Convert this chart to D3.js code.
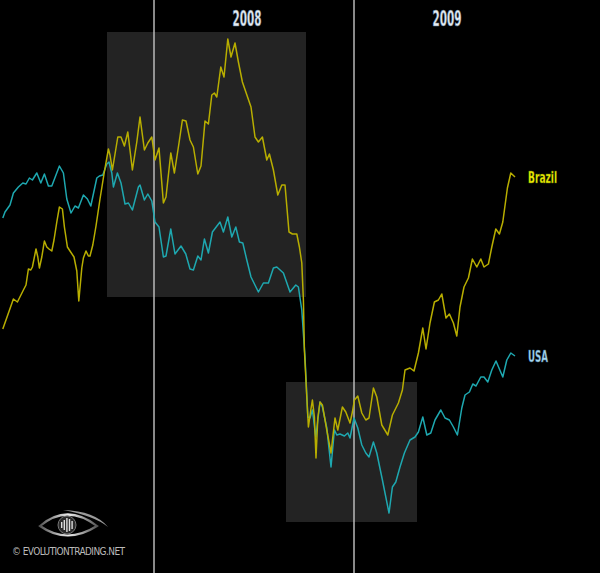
<!DOCTYPE html>
<html>
<head>
<meta charset="utf-8">
<script src="https://cdn.jsdelivr.net/npm/d3@7"></script>
<style>
  body { margin: 0; background: #000; }
  svg { display: block; }
</style>
</head>
<body>
<div id="container"></div>
<script>
/* CONSTANTS AND GLOBALS */
const width = 600,
  height = 573;

// time in decimal years, values in index points
const brazilYears = [2007.244, 2007.297, 2007.317, 2007.347, 2007.360, 2007.372, 2007.384, 2007.392, 2007.410, 2007.419,
  2007.427, 2007.439, 2007.452, 2007.464, 2007.475, 2007.489, 2007.500, 2007.514, 2007.527, 2007.542,
  2007.552, 2007.567, 2007.580, 2007.600, 2007.614, 2007.624, 2007.639, 2007.647, 2007.660, 2007.672,
  2007.680, 2007.694, 2007.710, 2007.730, 2007.750, 2007.772, 2007.780, 2007.792, 2007.819, 2007.835,
  2007.852, 2007.869, 2007.892, 2007.914, 2007.930, 2007.952, 2007.969, 2007.989, 2008.005, 2008.025,
  2008.047, 2008.060, 2008.084, 2008.102, 2008.125, 2008.142, 2008.160, 2008.180, 2008.197, 2008.219,
  2008.235, 2008.255, 2008.272, 2008.289, 2008.302, 2008.314, 2008.334, 2008.350, 2008.369, 2008.385,
  2008.405, 2008.422, 2008.442, 2008.485, 2008.505, 2008.522, 2008.542, 2008.564, 2008.577, 2008.597,
  2008.619, 2008.639, 2008.655, 2008.675, 2008.692, 2008.714, 2008.727, 2008.739, 2008.747, 2008.752,
  2008.764, 2008.772, 2008.784, 2008.792, 2008.802, 2008.810, 2008.819, 2008.830, 2008.842, 2008.864,
  2008.885, 2008.905, 2008.919, 2008.942, 2008.959, 2008.980, 2008.992, 2009.002, 2009.019, 2009.039,
  2009.059, 2009.075, 2009.097, 2009.114, 2009.139, 2009.169, 2009.192, 2009.222, 2009.242, 2009.255,
  2009.280, 2009.300, 2009.322, 2009.344, 2009.360, 2009.380, 2009.402, 2009.422, 2009.439, 2009.460,
  2009.477, 2009.497, 2009.514, 2009.530, 2009.550, 2009.572, 2009.592, 2009.614, 2009.634, 2009.650,
  2009.672, 2009.689, 2009.709, 2009.727, 2009.744, 2009.767, 2009.784, 2009.805];
const brazilValues = [191, 221, 218, 230, 235, 251, 250, 253, 271, 263,
  252, 263, 279, 273, 271, 269, 280, 298, 313, 311,
  293, 273, 269, 263, 249, 219, 252, 262, 269, 264,
  264, 275, 294, 321, 346, 371, 365, 350, 383, 383,
  374, 388, 350, 378, 403, 370, 377, 383, 360, 372,
  317, 323, 367, 347, 377, 400, 399, 380, 373, 346,
  354, 399, 396, 425, 427, 423, 453, 443, 481, 463,
  477, 458, 438, 413, 383, 378, 383, 360, 366, 350,
  325, 335, 335, 288, 286, 286, 273, 257, 220, 170,
  123, 93, 110, 120, 103, 62, 102, 118, 115, 90,
  67, 102, 90, 113, 108, 97, 108, 120, 124, 107,
  100, 102, 132, 123, 95, 85, 105, 117, 130, 150,
  152, 149, 167, 192, 171, 197, 218, 220, 226, 202,
  206, 197, 184, 213, 233, 242, 261, 253, 261, 253,
  256, 273, 291, 286, 298, 332, 347, 343];

const usaYears = [2007.244, 2007.255, 2007.280, 2007.297, 2007.322, 2007.344, 2007.360, 2007.377, 2007.392, 2007.414,
  2007.434, 2007.452, 2007.472, 2007.489, 2007.527, 2007.547, 2007.564, 2007.585, 2007.605, 2007.622,
  2007.647, 2007.667, 2007.684, 2007.714, 2007.727, 2007.744, 2007.764, 2007.775, 2007.789, 2007.797,
  2007.817, 2007.835, 2007.855, 2007.872, 2007.892, 2007.922, 2007.930, 2007.952, 2007.969, 2007.989,
  2008.005, 2008.025, 2008.047, 2008.060, 2008.084, 2008.105, 2008.135, 2008.159, 2008.180, 2008.197,
  2008.219, 2008.235, 2008.252, 2008.272, 2008.292, 2008.330, 2008.347, 2008.369, 2008.389, 2008.409,
  2008.427, 2008.444, 2008.464, 2008.485, 2008.522, 2008.547, 2008.572, 2008.597, 2008.614, 2008.647,
  2008.680, 2008.709, 2008.722, 2008.739, 2008.755, 2008.769, 2008.780, 2008.792, 2008.809, 2008.830,
  2008.842, 2008.864, 2008.885, 2008.902, 2008.914, 2008.930, 2008.952, 2008.969, 2008.980, 2009.000,
  2009.019, 2009.039, 2009.059, 2009.075, 2009.097, 2009.114, 2009.142, 2009.175, 2009.192, 2009.209,
  2009.230, 2009.252, 2009.280, 2009.305, 2009.322, 2009.344, 2009.364, 2009.384, 2009.405, 2009.434,
  2009.455, 2009.477, 2009.497, 2009.517, 2009.539, 2009.555, 2009.577, 2009.594, 2009.610, 2009.634,
  2009.650, 2009.669, 2009.689, 2009.710, 2009.744, 2009.764, 2009.784, 2009.805];
const usaValues = [302, 308, 315, 327, 333, 337, 336, 342, 340, 347,
  337, 346, 334, 334, 354, 347, 321, 307, 314, 312,
  325, 321, 314, 342, 344, 345, 356, 358, 347, 333,
  347, 337, 316, 317, 310, 333, 335, 320, 326, 319,
  298, 293, 263, 264, 291, 266, 274, 266, 251, 250,
  264, 260, 281, 267, 288, 298, 288, 303, 283, 293,
  278, 277, 260, 243, 228, 237, 237, 252, 253, 247,
  228, 235, 233, 210, 163, 103, 102, 110, 83, 118,
  113, 92, 53, 90, 85, 86, 84, 87, 82, 102,
  92, 75, 67, 63, 78, 67, 40, 7, 33, 38,
  53, 67, 80, 83, 88, 103, 85, 87, 100, 110,
  102, 100, 93, 85, 112, 125, 128, 136, 134, 143,
  143, 138, 150, 159, 143, 160, 167, 164];

const yearLines = [2008, 2009];
const yearLabels = ["2008", "2009"];

// shaded periods: [fromYear, toYear] and [lowValue, highValue]
const boxYears = [[2007.765, 2008.76], [2008.66, 2009.315]];
const boxValues = [[223, 488], [-2, 138]];

const seriesNames = ["Brazil", "USA"];

/* SCALES */
const xScale = d3.scaleLinear()
  .domain([2007, 2010])
  .range([-46, 554]);

const yScale = d3.scaleLinear()
  .domain([0, 500])
  .range([520, 20]);

/* HTML ELEMENTS */
const svg = d3.select("#container")
  .append("svg")
  .attr("width", width)
  .attr("height", height)
  .style("background", "#000");

// shaded boxes
svg.selectAll(".box")
  .data(boxYears)
  .join("rect")
  .attr("class", "box")
  .attr("x", d => xScale(d[0]))
  .attr("width", d => xScale(d[1]) - xScale(d[0]))
  .attr("y", (d, i) => yScale(boxValues[i][1]))
  .attr("height", (d, i) => yScale(boxValues[i][0]) - yScale(boxValues[i][1]))
  .attr("fill", "#232323");

// year dividers
svg.selectAll(".yearline")
  .data(yearLines)
  .join("line")
  .attr("class", "yearline")
  .attr("x1", d => xScale(d))
  .attr("x2", d => xScale(d))
  .attr("y1", 0)
  .attr("y2", height)
  .attr("stroke", "#c4c4c4")
  .attr("stroke-width", 1.4);

svg.selectAll(".yearlabel")
  .data(yearLabels)
  .join("text")
  .attr("class", "yearlabel")
  .attr("x", (d, i) => xScale(yearLines[i] + 0.465))
  .attr("y", 26)
  .attr("text-anchor", "middle")
  .attr("font-family", "'Liberation Sans Narrow', 'DejaVu Sans Condensed', sans-serif")
  .attr("font-weight", "bold")
  .attr("font-size", 21)
  .attr("textLength", 29)
  .attr("lengthAdjust", "spacingAndGlyphs")
  .attr("fill", "#e6edf3")
  .attr("stroke", "#5d7a96")
  .attr("stroke-width", 0.6)
  .text(d => d);

// lines
const line = d3.line()
  .x(d => xScale(d[0]))
  .y(d => yScale(d[1]));

const brazil = d3.zip(brazilYears, brazilValues);
const usa = d3.zip(usaYears, usaValues);

svg.append("path")
  .datum(usa)
  .attr("fill", "none")
  .attr("stroke", "#1ea8b0")
  .attr("stroke-width", 1.5)
  .attr("stroke-linejoin", "round")
  .attr("d", line);

svg.append("path")
  .datum(brazil)
  .attr("fill", "none")
  .attr("stroke", "#b8ae00")
  .attr("stroke-width", 1.5)
  .attr("stroke-linejoin", "round")
  .attr("d", line);

// series labels
const lastPoints = [brazil[brazil.length - 1], usa[usa.length - 1]];
const labelColors = ["#f2f200", "#a4d4ee"];
const labelStrokes = ["#5a6a00", "#3c6a8a"];
svg.selectAll(".serieslabel")
  .data(seriesNames)
  .join("text")
  .attr("class", "serieslabel")
  .attr("x", 528)
  .attr("y", (d, i) => yScale(lastPoints[i][1]) + 6)
  .attr("font-family", "'Liberation Sans Narrow', 'DejaVu Sans Condensed', sans-serif")
  .attr("font-weight", "bold")
  .attr("font-size", 16)
  .attr("textLength", (d, i) => i === 0 ? 29 : 20)
  .attr("lengthAdjust", "spacingAndGlyphs")
  .attr("fill", (d, i) => labelColors[i])
  .attr("stroke", (d, i) => labelStrokes[i])
  .attr("stroke-width", 0.4)
  .text(d => d);

// logo
const logo = svg.append("g").attr("transform", "translate(67,525)");
const grad = svg.append("defs").append("linearGradient")
  .attr("id", "eyegrad").attr("x1", 0).attr("x2", 1);
grad.append("stop").attr("offset", "0%").attr("stop-color", "#555");
grad.append("stop").attr("offset", "50%").attr("stop-color", "#eee");
grad.append("stop").attr("offset", "100%").attr("stop-color", "#555");

logo.append("path")
  .attr("d", "M-27,1 Q0,-22 30,1 Q0,20 -27,1 Z")
  .attr("fill", "none")
  .attr("stroke", "url(#eyegrad)")
  .attr("stroke-width", 2.2);
logo.append("path")
  .attr("d", "M-4,-15 Q28,-14 41,2 Q28,-9 -4,-15 Z")
  .attr("fill", "#9a9a9a");
logo.append("circle")
  .attr("r", 9)
  .attr("fill", "#2a2a2a")
  .attr("stroke", "#777")
  .attr("stroke-width", 1);
logo.selectAll(".bar")
  .data([3, 5, 7, 6, 4])
  .join("rect")
  .attr("x", (d, i) => -6 + i * 2.6)
  .attr("y", d => -d)
  .attr("width", 1.4)
  .attr("height", d => d * 2)
  .attr("fill", "#ddd");

svg.append("text")
  .attr("x", 12)
  .attr("y", 555)
  .attr("font-family", "'Liberation Sans Narrow', 'DejaVu Sans Condensed', sans-serif")
  .attr("font-size", 10)
  .attr("textLength", 113)
  .attr("lengthAdjust", "spacing")
  .attr("fill", "#bbb")
  .text("© EVOLUTIONTRADING.NET");
</script>
</body>
</html>
